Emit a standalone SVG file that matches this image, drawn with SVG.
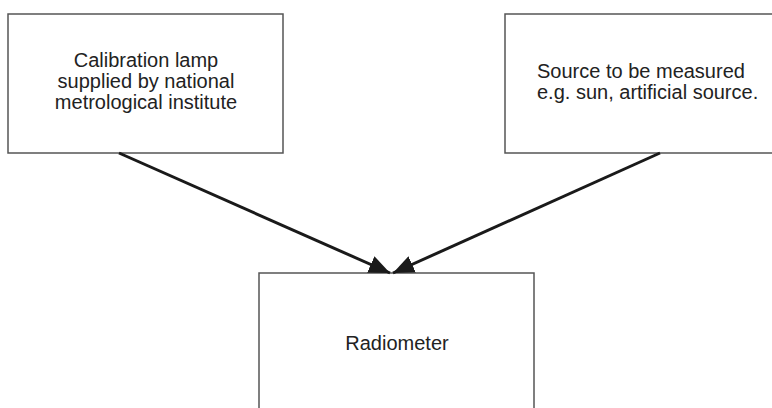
<svg xmlns="http://www.w3.org/2000/svg" width="772" height="408" viewBox="0 0 772 408">
<style>
.box{fill:#fff;stroke:#555;stroke-width:1.5}
.t{font-family:"Liberation Sans",Arial,sans-serif;font-size:20px;fill:#222}
.c{stroke:#1a1a1a;stroke-width:3;fill:none}
</style>
<defs>
<marker id="ah" markerUnits="userSpaceOnUse" markerWidth="22" markerHeight="18" refX="21" refY="9" orient="auto">
<path d="M0,0 L21,9 L0,18 Z" fill="#1a1a1a"/>
</marker>
</defs>
<rect width="772" height="408" fill="#fff"/>
<g id="calibration-lamp">
<rect class="box" x="8" y="14" width="275" height="139"/>
<text class="t" text-anchor="middle" x="146" y="67">Calibration lamp</text>
<text class="t" text-anchor="middle" x="146" y="88">supplied by national</text>
<text class="t" text-anchor="middle" x="146" y="109">metrological institute</text>
</g>
<g id="source">
<rect class="box" x="505" y="14" width="275" height="139"/>
<text class="t" x="537" y="78">Source to be measured</text>
<text class="t" x="537" y="99">e.g. sun, artificial source.</text>
</g>
<g id="radiometer">
<rect class="box" x="259" y="273" width="275" height="150"/>
<text class="t" text-anchor="middle" x="397" y="350">Radiometer</text>
</g>
<g id="connectors">
<line class="c" x1="119" y1="153" x2="390" y2="273" marker-end="url(#ah)"/>
<line class="c" x1="660" y1="153" x2="393" y2="273" marker-end="url(#ah)"/>
</g>
</svg>
